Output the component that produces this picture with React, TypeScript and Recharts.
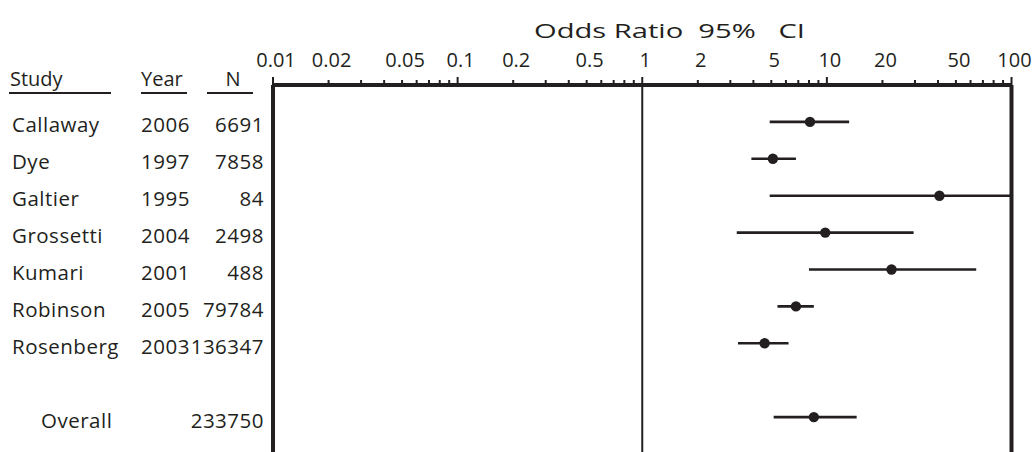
import React from "react";
import { ScatterChart, Scatter, XAxis, YAxis, ErrorBar, ReferenceLine } from "recharts";

const studies = ["Callaway", "Dye", "Galtier", "Grossetti", "Kumari", "Robinson", "Rosenberg", "Overall"];
const years = ["2006", "1997", "1995", "2004", "2001", "2005", "2003", ""];
const sizes = ["6691", "7858", "84", "2498", "488", "79784", "136347", "233750"];
const rows = [1, 2, 3, 4, 5, 6, 7, 9];
const oddsRatio = [8.1, 5.1, 40.7, 9.8, 22.4, 6.8, 4.6, 8.5];
const ciLow = [4.9, 3.9, 4.9, 3.25, 8.0, 5.4, 3.3, 5.15];
const ciHigh = [13.2, 6.8, 100, 29.5, 64.4, 8.5, 6.2, 14.5];

const labelTicks = [0.01, 0.02, 0.05, 0.1, 0.2, 0.5, 1, 2, 5, 10, 20, 50, 100];
const decades = [0.01, 0.1, 1, 10];
const allTicks = [
  ...decades.flatMap((d) => [1, 2, 3, 4, 5, 6, 7, 8, 9].map((m) => Number((d * m).toPrecision(3)))),
  100,
];

const INK = "#231f20";
const FONT = "'Open Sans', sans-serif";
const AXIS_Y = 85;

const data = rows.map((r, i) => ({
  row: r,
  or: oddsRatio[i],
  err: [oddsRatio[i] - ciLow[i], ciHigh[i] - oddsRatio[i]],
}));

const same = (a: number, b: number) => Math.abs(a / b - 1) < 1e-6;

const OddsTick = (props: any) => {
  const { x, payload } = props;
  const v = payload.value as number;
  const major = [...decades, 100].some((d) => same(d, v));
  const label = labelTicks.some((t) => same(t, v));
  return (
    <g>
      <line x1={x} x2={x} y1={AXIS_Y - (major ? 8 : 5)} y2={AXIS_Y} stroke={INK} strokeWidth={2} />
      {label && (
        <text x={x + 3} y={67} textAnchor="middle" fontSize={20} fontFamily={FONT} fill={INK}>
          {String(v)}
        </text>
      )}
    </g>
  );
};

const RowTick = (props: any) => {
  const { y, payload } = props;
  const i = rows.indexOf(payload.value);
  if (i < 0) return null;
  const overall = studies[i] === "Overall";
  const style = { fontSize: 20.5, fontFamily: FONT, fill: INK, letterSpacing: 0.5 };
  return (
    <g>
      <text x={overall ? 41 : 12} y={y} dy={10.5} {...style}>{studies[i]}</text>
      <text x={141} y={y} dy={10.5} {...style}>{years[i]}</text>
      <text x={264} y={y} dy={10.5} textAnchor="end" {...style}>{sizes[i]}</text>
    </g>
  );
};

export default function App() {
  return (
    <div style={{ position: "absolute", left: 0, top: 0, width: 1035, height: 452, overflow: "hidden", background: "#fff" }}>
      <ScatterChart width={1035} height={470} margin={{ top: 25, right: 23.5, bottom: 16, left: 0 }}>
        <XAxis
          type="number"
          dataKey="or"
          scale="log"
          domain={[0.01, 100]}
          allowDataOverflow
          orientation="top"
          height={60}
          ticks={allTicks}
          interval={0}
          tick={<OddsTick />}
          tickLine={false}
          axisLine={{ stroke: INK, strokeWidth: 4 }}
        />
        <YAxis
          type="number"
          dataKey="row"
          domain={[0, 10]}
          reversed
          width={273}
          ticks={rows}
          interval={0}
          tick={<RowTick />}
          tickLine={false}
          axisLine={false}
        />
        <ReferenceLine x={0.01} stroke={INK} strokeWidth={4} />
        <ReferenceLine x={1} stroke={INK} strokeWidth={2} />
        <ReferenceLine x={100} stroke={INK} strokeWidth={4} />
        <Scatter
          data={data}
          isAnimationActive={false}
          shape={(p: any) => <circle cx={p.cx} cy={p.cy} r={5.2} fill={INK} />}
        >
          <ErrorBar dataKey="err" direction="x" width={0} stroke={INK} strokeWidth={2.6} isAnimationActive={false} />
        </Scatter>
      </ScatterChart>
      <svg width={1035} height={452} style={{ position: "absolute", left: 0, top: 0, pointerEvents: "none" }}>
        <text
          x={534}
          y={38}
          fontSize={20.5}
          fontFamily={FONT}
          fill={INK}
          style={{ whiteSpace: "pre" }}
          textLength={271}
          lengthAdjust="spacingAndGlyphs"
        >
          {"Odds Ratio  95%   CI"}
        </text>
        <g fontSize={20} fontFamily={FONT} fill={INK}>
          <text x={10} y={86}>Study</text>
          <text x={141} y={86}>Year</text>
          <text x={233} y={86} textAnchor="middle">N</text>
        </g>
        <g stroke={INK} strokeWidth={2.2}>
          <line x1={9} x2={111} y1={93} y2={93} />
          <line x1={141} x2={187} y1={93} y2={93} />
          <line x1={207} x2={253} y1={93} y2={93} />
        </g>
      </svg>
    </div>
  );
}
